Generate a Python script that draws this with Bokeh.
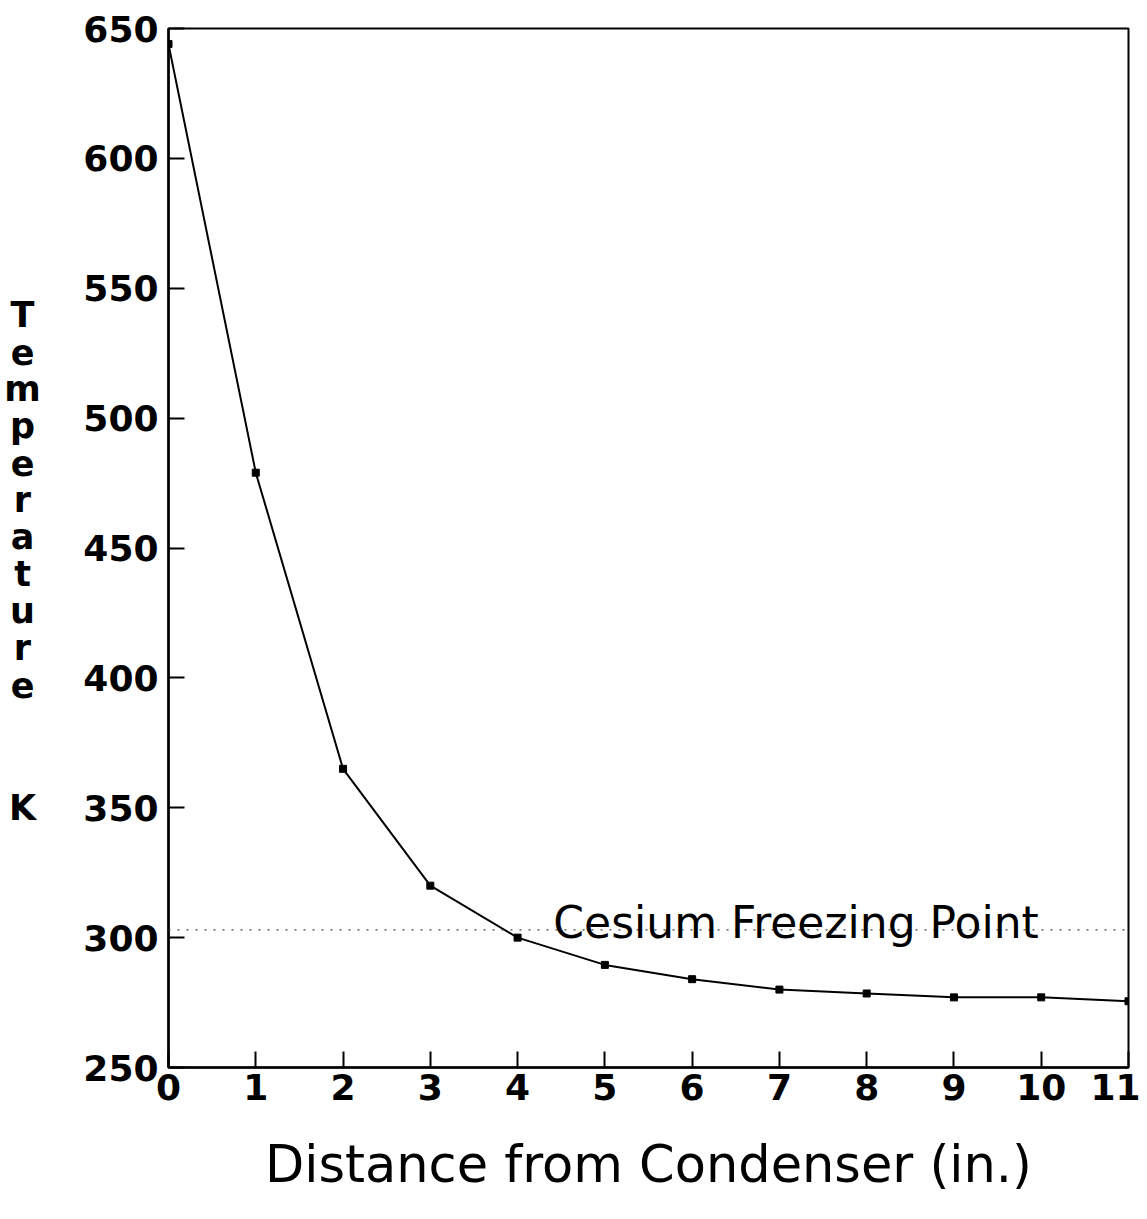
from bokeh.plotting import figure
from bokeh.models import Span, Label, FixedTicker, Range1d, ColumnDataSource
from bokeh.layouts import row
from bokeh.core.properties import value
from bokeh.embed import file_html
from bokeh.resources import INLINE

# Data
distance_in = [0, 1, 2, 3, 4, 5, 6, 7, 8, 9, 10, 11]
temperature_k = [644, 479, 365, 320, 300, 289.5, 284, 280, 278.5, 277, 277, 275.5]
cesium_freezing_point = 303
x_ticks = list(range(0, 12))
y_ticks = [250, 300, 350, 400, 450, 500, 550, 600, 650]
ylabel_letters = list("Temperature")
ylabel_unit = "K"

TOP, BOTTOM = 28, 133
HEIGHT = 1200
LEFT_W = 50
tick_font = "DejaVu Sans"

p = figure(width=1090, height=HEIGHT, output_backend="svg", toolbar_location=None,
           x_range=Range1d(0, 11), y_range=Range1d(250, 650),
           min_border_left=118, min_border_right=12, min_border_top=TOP, min_border_bottom=BOTTOM)

p.grid.visible = False
p.outline_line_color = "black"
p.outline_line_width = 2
p.background_fill_color = "white"
p.border_fill_color = "white"

for ax in (p.xaxis[0], p.yaxis[0]):
    ax.axis_line_width = 2.5
    ax.axis_line_color = "black"
    ax.major_tick_in = 16
    ax.major_tick_out = 0
    ax.major_tick_line_width = 2
    ax.major_tick_line_color = "black"
    ax.minor_tick_line_color = None
    ax.major_label_text_font = tick_font
    ax.major_label_text_font_style = "bold"
    ax.major_label_text_font_size = "36px"
    ax.major_label_text_color = "black"

p.xaxis.ticker = FixedTicker(ticks=x_ticks)
p.yaxis.ticker = FixedTicker(ticks=y_ticks)
p.xaxis.major_label_standoff = 6
p.yaxis.major_label_standoff = 10

p.xaxis.axis_label = "Distance from Condenser (in.)"
p.xaxis.axis_label_text_font = "DejaVu Sans"
p.xaxis.axis_label_text_font_style = "normal"
p.xaxis.axis_label_text_font_size = "51px"
p.xaxis.axis_label_standoff = 32
p.xaxis.axis_label_text_color = "black"

# freezing point reference line
p.add_layout(Span(location=cesium_freezing_point, dimension="width",
                  line_color="#444444", line_width=1.2, line_dash="2 7"))

p.line(distance_in, temperature_k, line_color="black", line_width=2)
p.scatter(distance_in, temperature_k, size=7, marker="square", color="black")

p.add_layout(Label(x=4.41, y=cesium_freezing_point + 2.8, text="Cesium Freezing Point",
                   text_font="DejaVu Sans", text_font_size="44px",
                   text_color="black", text_baseline="alphabetic", text_align="left"))

# left strip with the stacked vertical y-axis label
lp = figure(width=LEFT_W, height=HEIGHT, output_backend="svg", toolbar_location=None,
            x_range=Range1d(0, LEFT_W), y_range=p.y_range,
            min_border_left=0, min_border_right=0, min_border_top=TOP, min_border_bottom=BOTTOM)
lp.axis.visible = False
lp.grid.visible = False
lp.outline_line_color = None
lp.background_fill_color = "white"
lp.border_fill_color = "white"

px_per_y = 400 / 1039.0
y_top = 650 - (314 - TOP) * px_per_y
step = 37.0 * px_per_y
letters = ylabel_letters + [ylabel_unit]
ys = [y_top - i * step for i in range(len(ylabel_letters))] + [350]
src = ColumnDataSource(dict(x=[22] * len(letters), y=ys, t=letters))
lp.text(x="x", y="y", text="t", source=src, text_font=value(tick_font),
        text_font_style="bold", text_font_size="35px", text_color="black",
        text_align="center", text_baseline="middle")

layout = row(lp, p, spacing=0)
open("out.html", "w").write(file_html(layout, INLINE))
